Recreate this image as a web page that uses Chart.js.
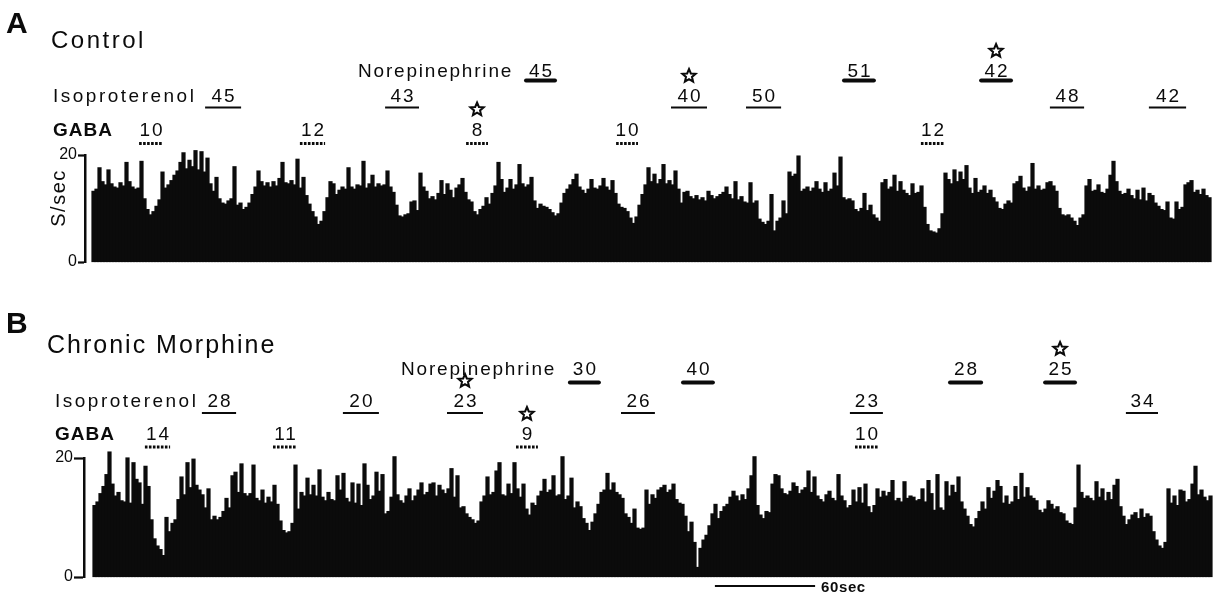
<!DOCTYPE html>
<html><head><meta charset="utf-8">
<script src="https://cdn.jsdelivr.net/npm/chart.js@4.4.1/dist/chart.umd.min.js"></script>
<style>
html,body{margin:0;padding:0;background:#fff;}
#wrap{position:relative;width:1217px;height:598px;overflow:hidden;background:#fff;}
canvas{position:absolute;left:0;}
</style></head><body>
<div id="wrap">
<canvas id="cA" width="1217" height="300" style="top:0px"></canvas>
<canvas id="cB" width="1217" height="298" style="top:300px"></canvas>
</div>
<script>
// ---- firing rate (spikes/sec), one value per histogram bin ----
const controlRate = [
13.2,13.6,17.6,15.0,14.4,17.2,14.6,14.0,13.8,14.8,14.2,18.6,15.0,14.0,13.6,13.8,18.8,11.8,9.8,8.8,
9.4,10.4,11.6,16.8,13.8,14.4,15.2,16.2,17.0,18.6,20.4,17.4,19.0,17.8,20.8,17.2,20.6,16.8,19.4,14.6,
13.2,15.8,11.8,11.0,10.8,11.4,11.8,17.8,10.6,11.0,9.8,10.2,11.0,12.6,14.0,17.0,15.0,14.2,14.8,14.0,
15.0,14.2,15.6,18.6,14.8,14.6,15.2,14.4,19.2,13.8,15.8,12.4,10.8,9.4,8.4,7.0,7.6,9.4,12.0,15.0,
14.6,12.6,13.4,14.0,13.6,17.6,14.0,13.6,14.4,14.2,18.8,13.8,14.6,16.2,14.0,14.6,14.2,14.4,17.0,14.0,
13.0,10.6,8.6,8.4,8.8,9.0,11.2,11.4,9.6,16.6,14.0,13.2,11.8,12.2,11.6,12.8,15.2,12.6,14.6,13.4,
12.0,13.8,14.4,15.6,13.0,11.6,11.2,9.4,8.8,9.8,10.4,12.0,10.8,12.8,14.2,18.6,15.4,13.0,13.8,15.4,
13.6,14.4,18.2,14.6,14.0,14.4,15.8,11.4,10.0,10.8,10.4,10.2,9.8,9.2,8.6,9.0,11.0,12.8,13.6,14.4,
15.4,16.4,14.0,13.4,12.8,13.6,15.4,13.8,13.6,14.2,15.6,14.0,13.4,15.2,12.8,10.8,10.2,10.0,9.4,8.2,
7.2,8.4,10.6,12.6,14.4,17.6,15.0,16.4,14.6,
15.4,18.2,14.6,15.2,14.4,17.0,13.6,11.0,13.0,13.2,12.2,11.8,12.4,11.6,12.0,11.4,13.2,12.4,11.8,12.2,
12.6,13.0,14.0,12.6,11.8,15.0,11.6,12.2,11.2,11.0,14.8,11.0,11.4,8.0,7.4,7.0,7.6,12.6,5.8,7.6,
8.2,11.4,9.0,16.8,16.0,16.4,19.8,13.2,13.6,14.0,13.2,13.8,15.0,13.6,13.0,14.8,13.2,13.6,16.6,14.2,
19.6,12.0,11.6,11.8,11.4,9.8,9.4,10.0,12.8,9.6,10.6,8.8,8.2,7.6,14.8,15.4,13.6,14.0,16.2,13.2,
15.0,13.4,12.8,12.4,14.6,12.8,13.0,14.2,10.2,7.0,5.8,5.6,5.4,6.2,9.0,
16.6,15.4,14.6,17.2,15.0,16.8,15.4,18.0,13.8,12.8,15.6,13.0,13.4,14.2,12.8,13.4,12.0,11.2,10.0,9.8,
10.8,11.4,11.0,14.6,15.0,16.0,13.8,13.2,14.0,18.4,13.6,14.2,13.4,13.6,14.8,15.0,14.2,13.2,10.0,8.8,
8.6,8.8,8.2,7.6,6.8,8.2,8.8,14.2,15.4,13.2,13.4,14.4,13.0,12.8,13.6,16.2,18.8,15.0,13.2,12.6,
12.8,13.6,12.4,11.8,13.4,11.6,13.8,11.4,12.8,12.4,11.0,10.4,9.8,9.6,11.2,8.2,8.0,11.2,9.8,10.2,
14.4,14.8,15.2,13.0,13.4,12.6,13.6,12.4,12.0
];
const morphineRate = [
12.0,12.6,14.0,15.2,17.2,21.0,15.6,13.6,14.2,12.8,12.6,20.0,12.4,19.2,16.4,15.8,12.2,18.6,15.2,9.6,
6.4,5.2,4.6,3.6,10.0,7.6,9.0,9.6,13.0,16.8,13.8,19.2,15.0,19.8,15.4,14.6,13.8,11.6,14.8,9.6,
10.2,9.6,10.0,11.0,13.2,11.6,17.0,17.6,14.2,19.0,14.0,13.6,14.0,18.8,13.2,12.8,14.6,12.4,13.4,12.6,
15.4,12.2,9.4,7.8,7.4,7.6,9.0,18.8,11.4,14.2,13.6,16.6,13.8,15.4,13.6,18.0,13.4,12.8,14.2,13.0,
12.8,17.0,14.6,17.4,13.2,12.6,15.8,12.4,15.6,12.0,19.0,15.4,13.0,
13.6,17.6,14.4,17.2,10.6,11.0,13.4,20.2,13.8,12.8,12.4,13.6,14.8,12.8,13.6,14.6,15.8,13.8,14.2,15.6,
15.8,13.6,15.4,14.6,14.0,14.8,18.2,13.4,17.0,11.6,11.8,10.6,10.0,9.6,9.0,9.4,12.6,13.6,16.8,13.8,
14.2,17.8,19.2,13.8,13.6,15.6,14.0,19.2,14.8,13.4,15.6,11.4,10.4,12.4,12.0,13.6,14.4,16.4,14.2,14.6,
17.0,13.6,13.8,20.2,13.0,13.6,16.6,11.6,12.6,11.8,9.8,9.0,7.8,9.2,10.6,12.2,14.2,14.6,17.4,14.6,
15.8,14.2,13.8,13.2,10.6,10.0,9.0,11.4,8.2,8.0,8.2,14.6,12.2,13.8,13.2,14.6,
15.0,15.4,14.2,14.6,15.6,13.0,12.4,12.2,10.2,7.6,9.2,5.8,1.6,4.8,6.2,7.0,8.6,10.6,12.2,9.8,
11.0,11.8,12.2,13.4,14.4,13.6,12.8,13.8,13.0,14.8,17.0,20.2,12.0,10.4,9.8,11.0,10.8,15.6,17.2,17.0,
14.8,14.0,13.8,14.4,15.8,15.2,14.0,14.6,15.0,17.8,14.2,16.8,13.6,13.0,12.6,13.8,14.4,13.2,12.8,17.2,
13.6,12.8,11.6,12.0,14.6,12.6,15.0,12.4,15.6,11.8,10.8,12.0,14.8,13.4,14.4,13.6,14.2,16.2,12.8,13.2,
12.6,16.0,13.2,13.6,13.4,12.8,13.0,14.8,12.6,16.2,14.0,11.2,17.2,11.6,11.2,
16.0,13.6,15.4,14.2,16.8,12.6,11.4,10.2,8.8,8.4,9.8,11.0,12.6,11.4,15.0,13.2,14.4,16.2,15.2,12.4,
13.6,12.2,12.6,15.2,13.0,17.4,13.4,15.0,13.6,13.2,12.8,11.2,10.8,11.4,12.8,12.2,11.4,11.8,10.8,10.6,
9.4,9.0,8.8,11.6,18.8,14.2,13.2,13.6,13.2,12.8,16.0,13.4,14.8,12.8,14.2,13.0,15.4,16.4,11.8,10.2,
8.8,9.6,10.4,10.8,9.8,11.4,10.0,10.6,10.2,7.6,6.2,5.2,4.8,5.8,14.8,12.4,13.6,12.0,14.6,14.4,
12.6,13.0,15.6,18.6,13.8,14.6,13.4,12.8,13.6
];
const yTicks = [0, 20];

// ---- drug applications, in bin units (dose in nA) ----
const controlNE   = [{dose:'45',from:143.5,to:154.5},{dose:'51',from:249.5,to:260.8},{dose:'42',from:295.2,to:306.5,star:true}];
const controlISO  = [{dose:'45',from:37.2,to:49.2},{dose:'43',from:97.2,to:108.5},{dose:'40',from:192.5,to:204.5,star:true},
                     {dose:'50',from:217.5,to:229.2},{dose:'48',from:318.8,to:330.2},{dose:'42',from:351.8,to:364.2}];
const controlGABA = [{dose:'10',from:15.2,to:23.2},{dose:'12',from:68.8,to:77.2},{dose:'8',from:124.2,to:131.5,star:true},
                     {dose:'10',from:174.2,to:181.5},{dose:'12',from:275.8,to:283.5}];
const morphNE     = [{dose:'30',from:157.8,to:168.8},{dose:'40',from:195.5,to:206.8},{dose:'28',from:284.5,to:296.2},{dose:'25',from:316.2,to:327.5,star:true}];
const morphISO    = [{dose:'28',from:35.8,to:47.2},{dose:'20',from:82.8,to:94.8},{dose:'23',from:117.5,to:129.5,star:true},
                     {dose:'26',from:175.5,to:186.8},{dose:'23',from:251.8,to:262.8},{dose:'34',from:343.8,to:354.5}];
const morphGABA   = [{dose:'14',from:16.8,to:25.2},{dose:'11',from:59.5,to:67.5},{dose:'9',from:140.5,to:147.8,star:true},{dose:'10',from:253.5,to:261.2}];
const scaleBar60s = {from:206.8, to:240.2, label:'60sec'};

const FAM = '"Liberation Sans", Arial, Helvetica, sans-serif';
const INK = '#0b0b0b';

function txt(ctx, s, x, y, font, sp, align){
  ctx.font = font; ctx.textAlign = align || 'left'; ctx.textBaseline = 'alphabetic';
  try { ctx.letterSpacing = (sp||0) + 'px'; } catch(e){}
  ctx.fillText(s, x, y);
  try { ctx.letterSpacing = '0px'; } catch(e){}
}
function star(ctx, cx, cy, R){
  const r = R*0.45; ctx.beginPath();
  for (let k=0;k<10;k++){ const a=-Math.PI/2+k*Math.PI/5, rad=(k%2)?r:R; ctx.lineTo(cx+rad*Math.cos(a), cy+rad*Math.sin(a)); }
  ctx.closePath(); ctx.lineWidth=2; ctx.lineJoin='miter'; ctx.stroke();
}

const panelText = {
  id:'panelText',
  afterDatasetsDraw(chart, args, o){
    const ctx = chart.ctx, xs = chart.scales.x;
    const px = u => xs.getPixelForValue(u);
    ctx.save();
    ctx.fillStyle = INK; ctx.strokeStyle = INK;
    txt(ctx, o.letter, 6, 33, 'bold 30px '+FAM, 0);
    txt(ctx, o.title, o.titleX, o.titleY, o.titleSize+'px '+FAM, o.titleSp);
    txt(ctx, 'Norepinephrine', o.neX, o.rows.ne.t, '19px '+FAM, 1.8);
    txt(ctx, 'Isoproterenol', o.isoX, o.rows.iso.t, '19px '+FAM, 2.5);
    txt(ctx, 'GABA', o.isoX, o.rows.gaba.t, 'bold 19px '+FAM, 1);
    const drawRow = (list, row, kind) => {
      list.forEach(a => {
        const x1 = px(a.from), x2 = px(a.to), cx = (x1+x2)/2;
        ctx.save();
        if (kind === 'ne'){ ctx.lineWidth = 4; ctx.lineCap = 'round'; }
        else if (kind === 'iso'){ ctx.lineWidth = 2.2; ctx.lineCap = 'butt'; }
        else { ctx.lineWidth = 3; ctx.setLineDash([2.6,1.4]); }
        ctx.beginPath(); ctx.moveTo(x1+(kind==='ne'?2:0), row.b); ctx.lineTo(x2-(kind==='ne'?2:0), row.b); ctx.stroke();
        ctx.restore();
        txt(ctx, a.dose, cx+1, row.t, '19px '+FAM, 2, 'center');
        if (a.star) star(ctx, cx, row.t - 26, 7);
      });
    };
    drawRow(o.ne, o.rows.ne, 'ne');
    drawRow(o.iso, o.rows.iso, 'iso');
    drawRow(o.gaba, o.rows.gaba, 'gaba');
    if (o.yTitle){
      ctx.save(); ctx.translate(58, 198); ctx.rotate(-Math.PI/2);
      txt(ctx, 'S/sec', 0, 7, '20px '+FAM, 1.5, 'center');
      ctx.restore();
    }
    if (o.bar){
      const x1 = px(o.bar.from), x2 = px(o.bar.to);
      ctx.lineWidth = 2.2; ctx.beginPath(); ctx.moveTo(x1, 286); ctx.lineTo(x2, 286); ctx.stroke();
      txt(ctx, '60', x2+6, 292, 'bold 15px '+FAM, 0.5);
      txt(ctx, 'sec', x2+24, 292, 'bold 15px '+FAM, 0.5);
    }
    ctx.restore();
  }
};

function makeChart(id, vals, cfg){
  const xMax = vals.length - 0.5;
  return new Chart(document.getElementById(id), {
    type:'bar',
    data:{datasets:[{
      data: vals.map((v,i)=>({x:i, y:v})),
      backgroundColor: INK, borderWidth:0, barPercentage:1, categoryPercentage:1,
      inflateAmount:0.6, clip:false
    }]},
    options:{
      responsive:false, animation:false, devicePixelRatio:1,
      layout:{padding:{left:0, right:cfg.padRight, top:cfg.padTop, bottom:cfg.padBottom}},
      plugins:{legend:{display:false}, tooltip:{enabled:false}, panelText:cfg.text},
      scales:{
        x:{type:'linear', display:false, offset:false, bounds:'data', min:cfg.xMin, max:xMax,
           grid:{offset:false},
           afterBuildTicks: s => { s.min = cfg.xMin; s.max = xMax; s.ticks = [{value:cfg.xMin},{value:xMax}]; }},
        y:{
          min:0, max:20,
          afterFit: s => { s.width = cfg.axisX; },
          afterBuildTicks: s => { s.ticks = yTicks.map(v => ({value:v})); },
          ticks:{color:INK, font:{size:16, family:FAM}, padding:1},
          grid:{drawOnChartArea:false, drawTicks:true, tickLength:cfg.tickLen, tickWidth:2.2, color:INK},
          border:{display:true, width:2.5, color:INK}
        }
      }
    },
    plugins:[panelText]
  });
}

makeChart('cA', controlRate, {
  axisX:85, xMin:-0.5-7/3, padRight:6, padTop:155, padBottom:38, tickLen:7,
  text:{letter:'A', title:'Control', titleX:51, titleY:48, titleSize:24, titleSp:2.5,
        neX:358, isoX:53, yTitle:true,
        rows:{ne:{t:77,b:80.5}, iso:{t:102,b:107.5}, gaba:{t:135.5,b:143.5}},
        ne:controlNE, iso:controlISO, gaba:controlGABA}
});
makeChart('cB', morphineRate, {
  axisX:84, xMin:-3.5, padRight:5, padTop:158, padBottom:21, tickLen:10,
  text:{letter:'B', title:'Chronic Morphine', titleX:47, titleY:53, titleSize:25, titleSp:2,
        neX:401, isoX:55, yTitle:false,
        rows:{ne:{t:75,b:82.5}, iso:{t:107,b:113}, gaba:{t:140,b:147}},
        ne:morphNE, iso:morphISO, gaba:morphGABA, bar:scaleBar60s}
});
</script>
</body></html>
